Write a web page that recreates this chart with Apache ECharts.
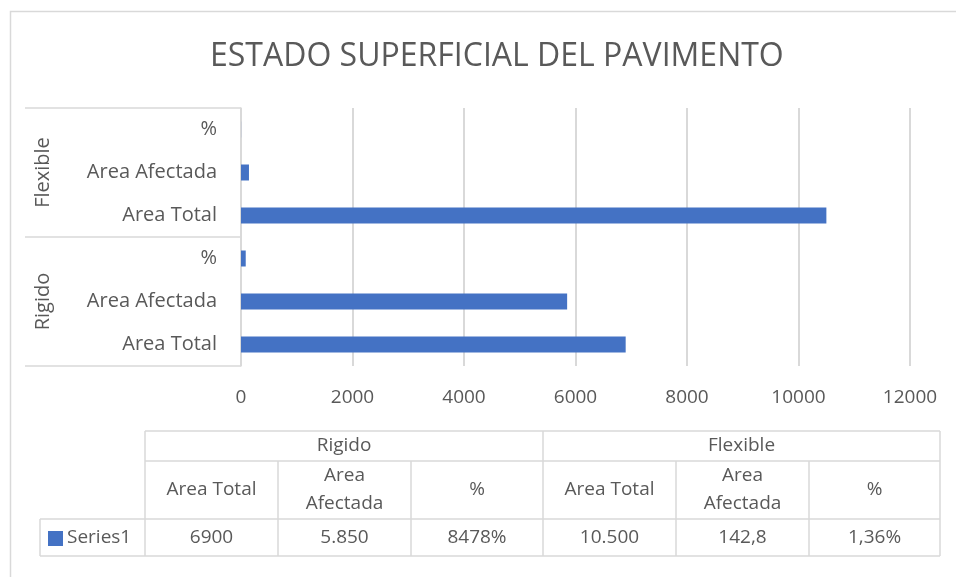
<!DOCTYPE html>
<html lang="es">
<head>
    <meta charset="UTF-8">
    <title>Estado superficial del pavimento</title>
    <script src="https://cdn.jsdelivr.net/npm/echarts@6/dist/echarts.min.js"></script>
    <style>
        body { margin: 0; padding: 0; background: #fff; }
        #chart { width: 956px; height: 577px; }
    </style>
</head>
<body>
    <div id="chart"></div>
    <script>
        // datos
        const groups = ['Rigido', 'Flexible'];
        const subCategories = ['Area Total', 'Area Afectada', '%'];
        const rigidoValues = [6900, 5850, 84.78];
        const flexibleValues = [10500, 142.8, 1.36];
        const tableLabels = ['6900', '5.850', '8478%', '10.500', '142,8', '1,36%'];
        const xTicks = [0, 2000, 4000, 6000, 8000, 10000, 12000];
        const seriesName = 'Series1';

        const BLUE = '#4472c4';
        const TEXT = '#595959';
        const LINE = '#d9d9d9';
        const FONT = 'Open Sans';

        // categorias del eje (de abajo hacia arriba)
        const yCats = [];
        const values = [];
        groups.forEach((g, gi) => {
            const vals = gi === 0 ? rigidoValues : flexibleValues;
            subCategories.forEach((s, si) => {
                yCats.push(g + '|' + s);
                values.push(vals[si]);
            });
        });

        // tabla de datos
        const colX = [145, 278, 411, 543, 676, 809, 940];
        const rowY = [431, 461, 519, 556];
        const legendLeft = 40;
        const graphics = [];
        function line(x1, y1, x2, y2) {
            graphics.push({ type: 'line', shape: { x1, y1, x2, y2 }, style: { stroke: LINE, lineWidth: 1.5 }, silent: true });
        }
        function text(x, y, str, align) {
            graphics.push({
                type: 'text', x, y, silent: true,
                style: { text: str, fill: TEXT, font: '19px "' + FONT + '"', align: align || 'center', verticalAlign: 'middle', lineHeight: 28 }
            });
        }
        line(colX[0], rowY[0], colX[6], rowY[0]);
        line(colX[0], rowY[1], colX[6], rowY[1]);
        line(legendLeft, rowY[2], colX[6], rowY[2]);
        line(legendLeft, rowY[3], colX[6], rowY[3]);
        line(legendLeft, rowY[2], legendLeft, rowY[3]);
        [0, 3, 6].forEach(i => line(colX[i], rowY[0], colX[i], rowY[3]));
        [1, 2, 4, 5].forEach(i => line(colX[i], rowY[1], colX[i], rowY[3]));
        groups.forEach((g, gi) => {
            text((colX[gi * 3] + colX[gi * 3 + 3]) / 2, (rowY[0] + rowY[1]) / 2, g);
            subCategories.forEach((s, si) => {
                const c = gi * 3 + si;
                const cx = (colX[c] + colX[c + 1]) / 2;
                text(cx, (rowY[1] + rowY[2]) / 2, s.replace('Area Afectada', 'Area\nAfectada'));
                text(cx, (rowY[2] + rowY[3]) / 2, tableLabels[c]);
            });
        });
        graphics.push({ type: 'rect', shape: { x: 48, y: 531, width: 15, height: 15 }, style: { fill: BLUE }, silent: true });
        text(67, (rowY[2] + rowY[3]) / 2, seriesName, 'left');
        // borde del area del grafico
        graphics.push({ type: 'rect', shape: { x: 10.5, y: 11.5, width: 1000, height: 1000 }, style: { fill: 'none', stroke: LINE, lineWidth: 1.5 }, silent: true, z: -1 });

        const chart = echarts.init(document.getElementById('chart'));
        chart.setOption({
            animation: false,
            textStyle: { fontFamily: FONT },
            title: {
                text: 'ESTADO SUPERFICIAL DEL PAVIMENTO',
                left: 205,
                top: 36,
                textStyle: { color: TEXT, fontSize: 32, fontWeight: 'normal', fontFamily: FONT }
            },
            grid: { left: 241, right: 46, top: 108, bottom: 211 },
            xAxis: {
                type: 'value',
                min: xTicks[0],
                max: xTicks[xTicks.length - 1],
                interval: xTicks[1] - xTicks[0],
                axisLine: { show: false },
                axisTick: { show: false },
                axisLabel: { color: TEXT, fontSize: 19, margin: 22, formatter: v => String(v) },
                splitLine: { lineStyle: { color: LINE, width: 2 } }
            },
            yAxis: [
                {
                    type: 'category',
                    data: yCats,
                    axisLine: { lineStyle: { color: LINE, width: 1.5 } },
                    axisTick: { show: false },
                    axisLabel: {
                        color: TEXT, fontSize: 20, margin: 24,
                        formatter: v => v.split('|')[1]
                    }
                },
                {
                    type: 'category',
                    data: groups,
                    position: 'left',
                    offset: 0,
                    axisLine: { show: false },
                    axisTick: { show: true, length: 216, lineStyle: { color: LINE, width: 1.5 } },
                    axisLabel: { color: TEXT, fontSize: 20, rotate: 90, margin: 188 }
                }
            ],
            series: [{
                name: seriesName,
                type: 'bar',
                data: values,
                barWidth: 16,
                itemStyle: { color: BLUE }
            }],
            graphic: graphics
        });
    </script>
</body>
</html>
